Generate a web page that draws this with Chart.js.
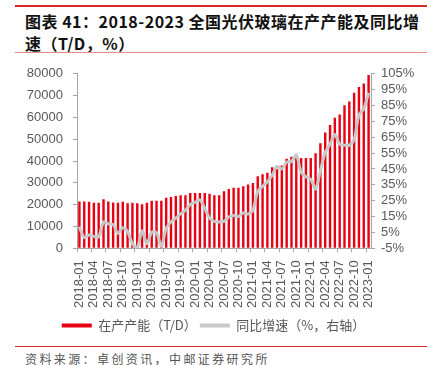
<!DOCTYPE html>
<html>
<head>
<meta charset="utf-8">
<script src="https://cdn.jsdelivr.net/npm/chart.js@4.4.0/dist/chart.umd.min.js"></script>
<style>
  html, body { margin: 0; padding: 0; background: #fff; }
  body { width: 427px; height: 365px; position: relative; overflow: hidden; font-family: "Noto Sans CJK SC", sans-serif; }
  .topline { position: absolute; left: 15px; right: 0; top: 5px; height: 2px; background: #d7282e; }
  .title { position: absolute; left: 25px; top: 10px; font-size: 16px; font-weight: bold; line-height: 22px; color: #111; letter-spacing: 0.5px; }
  .subline { position: absolute; left: 15px; right: 0; top: 52px; height: 1px; background: #e98b8b; }
  .chartbox { position: absolute; left: 0; top: 56px; width: 427px; height: 286px; }
  .bottomline { position: absolute; left: 15px; right: 0; top: 346px; height: 1px; background: #d7282e; }
  .source { position: absolute; left: 25px; top: 350px; font-size: 12px; color: #555; letter-spacing: 2.4px; }
</style>
</head>
<body>
<div class="topline"></div>
<div class="title">图表 41：2018-2023 全国光伏玻璃在产产能及同比增<br>速（T/D，%）</div>
<div class="subline"></div>
<div class="chartbox"><canvas id="chart"></canvas></div>
<div class="bottomline"></div>
<div class="source">资料来源：卓创资讯，中邮证券研究所</div>
<script>
const months = [
  "2018-01","2018-02","2018-03","2018-04","2018-05","2018-06","2018-07","2018-08","2018-09","2018-10","2018-11","2018-12",
  "2019-01","2019-02","2019-03","2019-04","2019-05","2019-06","2019-07","2019-08","2019-09","2019-10","2019-11","2019-12",
  "2020-01","2020-02","2020-03","2020-04","2020-05","2020-06","2020-07","2020-08","2020-09","2020-10","2020-11","2020-12",
  "2021-01","2021-02","2021-03","2021-04","2021-05","2021-06","2021-07","2021-08","2021-09","2021-10","2021-11","2021-12",
  "2022-01","2022-02","2022-03","2022-04","2022-05","2022-06","2022-07","2022-08","2022-09","2022-10","2022-11","2022-12",
  "2023-01"
];

// 在产产能 (T/D)
const capacity = [
  21500,21500,21300,20900,20900,22500,21500,21000,20900,21300,20600,20900,
  20600,20200,20900,21800,21800,21800,23200,23500,24000,24300,24300,25300,
  25300,25300,25300,25000,24300,24300,26200,27200,27800,27800,28400,29300,
  29900,33000,34000,34600,37200,36400,38000,41000,42000,42900,41400,41400,
  41400,43600,48200,53100,56500,59900,61300,65600,67300,71300,73900,75500,
  79500
];

// 同比增速 (%)
const growth = [
  8.6,1.8,3.4,2.5,2.2,11.6,10.4,10,4.3,8,5.5,-2.2,
  -4.7,5.9,-2.2,5.1,4.7,-3.7,7.5,11.6,14,16.7,19,22.6,
  23.9,25.5,20.2,14,12,11.6,12,14.7,15.7,15,17.3,16.7,
  19,31,34,37,41,46.7,45,49.3,49.7,53.8,43,40,
  38.5,32.4,44,55.4,60.6,66.7,60.6,60,60,63.6,79,83,
  93
];

const leftTicks = [0,10000,20000,30000,40000,50000,60000,70000,80000];
const rightTicks = [-5,5,15,25,35,45,55,65,75,85,95,105];

const axisGray = "#a6a6a6";
const labelGray = "#595959";
const numFont = { family: "Liberation Sans, Arial, sans-serif", size: 13 };

new Chart(document.getElementById("chart"), {
  data: {
    labels: months,
    datasets: [
      {
        type: "bar",
        label: "在产产能（T/D）",
        data: capacity,
        backgroundColor: "#e60012",
        barPercentage: 0.5,
        categoryPercentage: 1,
        yAxisID: "y",
        order: 2
      },
      {
        type: "line",
        label: "同比增速（%，右轴）",
        data: growth,
        borderColor: "#c8c8c8",
        backgroundColor: "#c8c8c8",
        borderWidth: 3,
        pointRadius: 0,
        tension: 0.3,
        yAxisID: "y1",
        order: 1
      }
    ]
  },
  options: {
    responsive: true,
    maintainAspectRatio: false,
    animation: false,
    layout: { padding: { top: 4, left: 0, right: 0, bottom: 0 } },
    plugins: {
      tooltip: { enabled: false },
      legend: {
        position: "bottom",
        labels: {
          boxWidth: 30,
          boxHeight: 4,
          padding: 3,
          color: labelGray,
          font: { family: "Noto Sans CJK SC", size: 13 },
          sort: (a, b) => a.datasetIndex - b.datasetIndex,
          generateLabels: (chart) => {
            const items = Chart.defaults.plugins.legend.labels.generateLabels(chart);
            items.forEach(it => { it.lineWidth = 0; });
            return items;
          }
        }
      }
    },
    scales: {
      x: {
        offset: true,
        grid: {
          offset: true,
          drawOnChartArea: false,
          tickLength: 4,
          color: (ctx) => (ctx.index % 3 === 0 ? axisGray : "rgba(0,0,0,0)")
        },
        border: { color: axisGray },
        ticks: {
          autoSkip: false,
          maxRotation: 90,
          minRotation: 90,
          padding: 8,
          color: labelGray,
          font: numFont,
          callback: function (v, i) { return i % 3 === 0 ? months[i] : ""; }
        }
      },
      y: {
        position: "left",
        min: 0,
        max: 80000,
        afterBuildTicks: (s) => { s.ticks = leftTicks.map(v => ({ value: v })); },
        afterFit: (s) => { s.width = 77; },
        grid: { drawOnChartArea: false, tickLength: 4, color: axisGray },
        border: { color: axisGray },
        ticks: { autoSkip: false, padding: 10, color: labelGray, font: numFont, callback: (v) => String(v) }
      },
      y1: {
        position: "right",
        min: -5,
        max: 105,
        afterBuildTicks: (s) => { s.ticks = rightTicks.map(v => ({ value: v })); },
        afterFit: (s) => { s.width = 56; },
        grid: { drawOnChartArea: false, tickLength: 4, color: axisGray },
        border: { color: axisGray },
        ticks: { autoSkip: false, padding: 6, color: labelGray, font: numFont, callback: (v) => v + "%" }
      }
    }
  }
});
</script>
</body>
</html>
